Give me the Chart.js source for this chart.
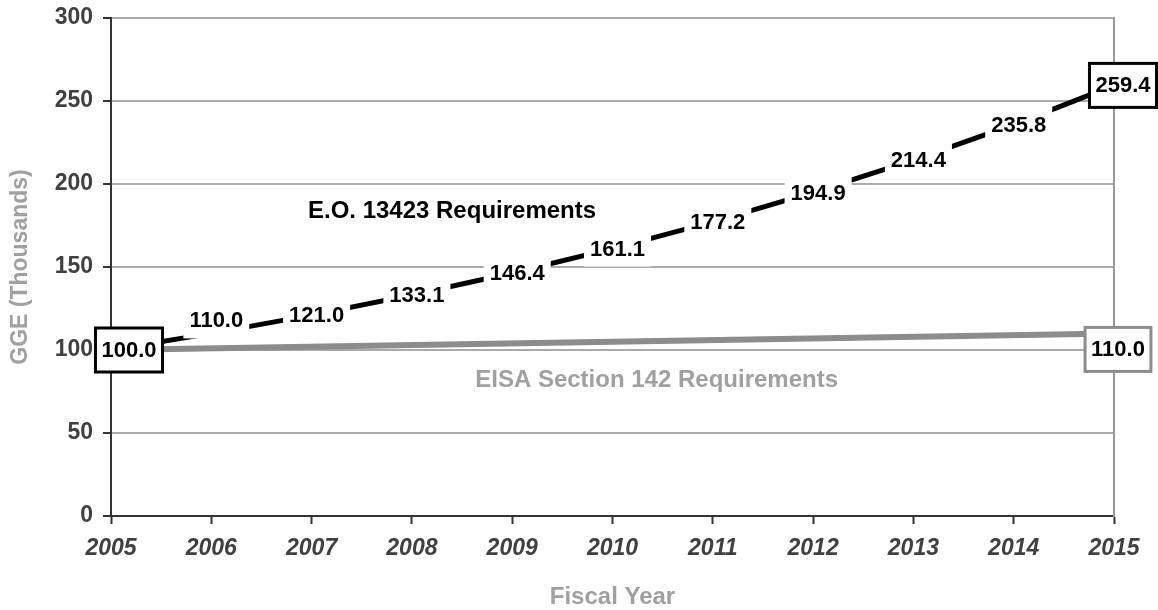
<!DOCTYPE html>
<html>
<head>
<meta charset="utf-8">
<script src="https://cdn.jsdelivr.net/npm/chart.js@4.4.1/dist/chart.umd.min.js"></script>
<style>
    body { margin: 0; background: #ffffff; }
    #wrap { width: 1158px; height: 610px; position: relative; }
</style>
</head>
<body>
<div id="wrap"><canvas id="gge-chart"></canvas></div>
<script>
const years = ['2005', '2006', '2007', '2008', '2009', '2010', '2011', '2012', '2013', '2014', '2015'];
const eoValues = [100.0, 110.0, 121.0, 133.1, 146.4, 161.1, 177.2, 194.9, 214.4, 235.8, 259.4];
const eisaValues = [100.0, null, null, null, null, null, null, null, null, null, 110.0];
const yTicks = [0, 50, 100, 150, 200, 250, 300];

const eoName = 'E.O. 13423 Requirements';
const eisaName = 'EISA Section 142 Requirements';

const fontFamily = '"Liberation Sans", Arial, sans-serif';
const darkText = '#404040';
const lightText = '#a0a0a0';

// value labels drawn on top of each line, white background cuts the line
const valueLabels = {
    id: 'valueLabels',
    afterDatasetsDraw( chart )
    {
        const ctx = chart.ctx;
        ctx.save();
        ctx.textAlign = 'center';
        ctx.textBaseline = 'middle';

        // series names, placed with the scales
        const xs = chart.scales.x;
        const ys = chart.scales.y;
        ctx.font = 'bold 24px ' + fontFamily;
        ctx.fillStyle = '#000000';
        ctx.fillText( eoName, xs.getPixelForValue( 3.4 ), ys.getPixelForValue( 183.5 ) );
        ctx.fillStyle = lightText;
        ctx.fillText( eisaName, xs.getPixelForValue( 5.44 ), ys.getPixelForValue( 82 ) );

        ctx.font = 'bold 22px ' + fontFamily;
        chart.data.datasets.forEach( ( ds, di ) => {
            const meta = chart.getDatasetMeta( di );
            meta.data.forEach( ( pt, i ) => {
                const v = ds.data[i];
                if( v === null ) return;
                if( di === 1 && i === 0 ) return;   // shares the 100.0 box
                const last = i === ds.data.length - 1;
                const boxed = i === 0 || last;
                let dx = 5, dy = 0;
                if( di === 0 && i === 0 ) dx = 18;
                if( di === 0 && last ) dx = 9;
                if( di === 0 && i === 1 ) dy = -13;
                if( di === 1 ) { dx = 4; dy = 16; }
                const text = v.toFixed( 1 );
                const w = ctx.measureText( text ).width;
                const cx = pt.x + dx;
                const cy = pt.y + dy;
                if( boxed )
                {
                    const bw = w + 12, bh = 44;
                    ctx.fillStyle = '#ffffff';
                    ctx.fillRect( cx - bw / 2, cy - bh / 2, bw, bh );
                    ctx.lineWidth = 3;
                    ctx.strokeStyle = di === 0 ? '#000000' : '#8c8c8c';
                    ctx.strokeRect( cx - bw / 2, cy - bh / 2, bw, bh );
                }
                else
                {
                    ctx.fillStyle = '#ffffff';
                    ctx.fillRect( cx - w / 2 - 6, cy - 18, w + 12, 36 );
                }
                ctx.fillStyle = '#000000';
                ctx.fillText( text, cx, cy + 1 );
            } );
        } );
        ctx.restore();
    }
};

document.addEventListener('DOMContentLoaded', function(){

    const ctx = document.getElementById('gge-chart').getContext('2d');
    new Chart( ctx, {
        type: 'line',
        data: {
            labels: years,
            datasets: [
                {
                    label: eoName,
                    data: eoValues,
                    borderColor: '#000000',
                    borderWidth: 5,
                    pointRadius: 0,
                    tension: 0,
                    order: 1,
                },
                {
                    label: eisaName,
                    data: eisaValues,
                    borderColor: '#8c8c8c',
                    borderWidth: 6,
                    pointRadius: 0,
                    spanGaps: true,
                    order: 2,
                }
            ]
        },
        options: {
            responsive: true,
            maintainAspectRatio: false,
            animation: false,
            layout: { padding: { top: 18, right: 44, left: 0, bottom: 0 } },
            plugins: {
                legend: { display: false },
                tooltip: { enabled: false },
            },
            scales: {
                x: {
                    offset: false,
                    afterFit: scale => {
                        scale.height = 94;
                        scale.paddingLeft = 0;
                        scale.paddingRight = 0;
                    },
                    grid: { drawOnChartArea: false, drawTicks: true, tickLength: 8, tickColor: '#333333', tickWidth: 2 },
                    border: { color: '#333333', width: 2 },
                    ticks: {
                        color: darkText,
                        padding: 11,
                        maxRotation: 0,
                        font: { family: fontFamily, size: 23, weight: 'bold', style: 'italic' },
                    },
                    title: {
                        display: true,
                        text: 'Fiscal Year',
                        color: lightText,
                        padding: { top: 0, bottom: 1 },
                        font: { family: fontFamily, size: 24, weight: 'bold', lineHeight: 1 },
                    },
                },
                y: {
                    min: 0,
                    max: 300,
                    afterFit: scale => {
                        scale.width = 111;
                        scale.paddingTop = 0;
                        scale.paddingBottom = 0;
                    },
                    afterBuildTicks: scale => { scale.ticks = yTicks.map( v => ( { value: v } ) ); },
                    grid: { color: '#aaaaaa', lineWidth: 2, tickLength: 8, tickColor: '#333333', tickWidth: 2 },
                    border: { color: '#333333', width: 2 },
                    ticks: {
                        color: darkText,
                        padding: 10,
                        font: { family: fontFamily, size: 23, weight: 'bold' },
                    },
                    title: {
                        display: true,
                        text: 'GGE (Thousands)',
                        color: lightText,
                        padding: { top: 7, bottom: 0 },
                        font: { family: fontFamily, size: 23, weight: 'bold' },
                    },
                },
                y2: {
                    position: 'right',
                    min: 0,
                    max: 300,
                    afterFit: scale => {
                        scale.width = 0;
                        scale.paddingTop = 0;
                        scale.paddingBottom = 0;
                    },
                    grid: { drawOnChartArea: false, drawTicks: false },
                    border: { color: '#999999', width: 2 },
                    ticks: { display: false },
                },
            }
        },
        plugins: [ valueLabels ]
    });

});
</script>
</body>
</html>
